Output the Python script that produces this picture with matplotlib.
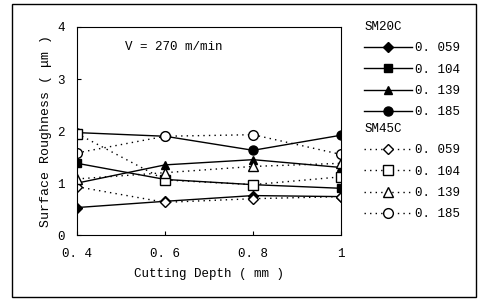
import matplotlib.pyplot as plt
from matplotlib.patches import Rectangle

plt.rcParams['font.family'] = ['Liberation Mono', 'DejaVu Sans Mono']

depth = [0.4, 0.6, 0.8, 1.0]
feeds = ['0. 059', '0. 104', '0. 139', '0. 185']
markers = ['D', 's', '^', 'o']

# SM20C (solid, filled markers)
sm20c = [
    [0.53, 0.65, 0.76, 0.74],
    [1.38, 1.07, 0.97, 0.90],
    [1.00, 1.35, 1.45, 1.30],
    [1.97, 1.90, 1.63, 1.92],
]
# SM45C (dotted, open markers)
sm45c = [
    [0.93, 0.63, 0.70, 0.74],
    [1.95, 1.06, 0.97, 1.12],
    [1.08, 1.20, 1.32, 1.38],
    [1.58, 1.90, 1.93, 1.55],
]
msizes = [5, 6, 6, 6.5]

fig = plt.figure(figsize=(4.79, 3.03), dpi=100)
ax = fig.add_axes([0.161, 0.224, 0.551, 0.687])

h20 = []
h45 = []
for i in range(4):
    l, = ax.plot(depth, sm20c[i], color='black', lw=1.0, marker=markers[i],
                 ms=msizes[i], mfc='black', mec='black', label=feeds[i])
    h20.append(l)
for i in range(4):
    l, = ax.plot(depth, sm45c[i], color='black', lw=1.0, ls=(0, (1, 3)),
                 marker=markers[i], ms=msizes[i] + 0.5, mfc='white', mec='black',
                 mew=1.0, label=feeds[i])
    h45.append(l)

ax.set_xlim(0.4, 1.0)
ax.set_ylim(0, 4)
ax.set_xticks(depth)
ax.set_xticklabels(['0. 4', '0. 6', '0. 8', '1'])
ax.set_yticks([0, 1, 2, 3, 4])
ax.tick_params(direction='in', length=3, labelsize=9, pad=9)
ax.set_xlabel('Cutting Depth ( mm )', fontsize=9, labelpad=6)
ax.set_ylabel('Surface Roughness ( μm )', fontsize=9.5, labelpad=4)
ax.text(0.18, 0.89, 'V = 270 m/min', transform=ax.transAxes, fontsize=9)

fig.legend(handles=h20, title='SM20C', loc='upper left',
           bbox_to_anchor=(0.742, 0.96), frameon=False, fontsize=9,
           title_fontsize=9, handlelength=3.8, handletextpad=0.3,
           labelspacing=0.75, borderpad=0.2, alignment='left')
fig.legend(handles=h45, title='SM45C', loc='upper left',
           bbox_to_anchor=(0.742, 0.623), frameon=False, fontsize=9,
           title_fontsize=9, handlelength=3.8, handletextpad=0.3,
           labelspacing=0.75, borderpad=0.2, alignment='left')

fig.patches.append(Rectangle((0.025, 0.02), 0.968, 0.968, transform=fig.transFigure,
                             fill=False, lw=1.0, ec='black'))

fig.savefig('out.png', dpi=100)
